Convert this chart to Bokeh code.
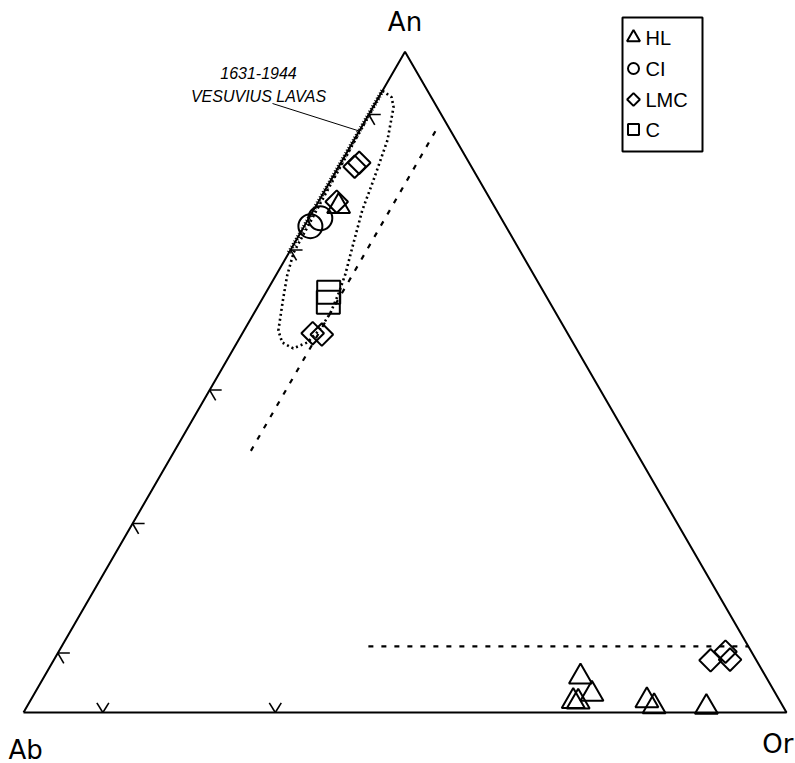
import math
from bokeh.plotting import figure
from bokeh.models import Range1d, Label
from bokeh.embed import file_html
from bokeh.resources import INLINE

# ---------------- data (percent; Ab = 100 - An - Or) ----------------
HL_AN = [76.6, 5.4, 2.8, 1.6, 1.7, 1.8, 0.9, 0.8]
HL_OR = [3.0, 70.3, 73.1, 71.9, 71.2, 80.8, 82.2, 89.1]
CI_AN = [73.6, 74.8]
CI_OR = [0.8, 1.5]
LMC_AN = [82.6, 83.2, 77.3, 57.4, 57.2, 7.9, 9.2, 8.0]
LMC_OR = [2.1, 2.4, 2.4, 9.2, 10.5, 86.1, 87.4, 88.6]
C_AN = [63.6, 62.1]
C_OR = [8.2, 8.9]

LEGEND_LABELS = ["HL", "CI", "LMC", "C"]
VERTEX_LABELS = ["An", "Ab", "Or"]
FIELD_LABEL = ["1631-1944", "VESUVIUS LAVAS"]

# 1631-1944 Vesuvius lavas field outline
FIELD_AN = [94.1, 93.1, 91.6, 86.6, 80.5, 76.0, 70.4, 66.4, 63.4, 60.4, 57.8, 56.0,
            55.1, 56.0, 57.8, 62.4, 66.1, 69.6, 80.0, 94.1]
FIELD_OR = [0.0, 1.7, 2.7, 4.4, 5.6, 6.4, 7.9, 9.0, 9.6, 10.0, 9.8, 9.2,
            7.8, 5.9, 4.5, 2.8, 1.5, 0.6, 0.3, 0.0]
FIELD_EDGE_AN = [69.6, 94.1]
LEADER_AN = 88.0

# tick positions
TICK_LEFT_AN = [9.0, 28.6, 48.8, 70.0, 90.5]
TICK_BASE_OR = [10.4, 33.0]

# dashed guide lines
GUIDE1_AN = [39.6, 89.0]   # Or = 10
GUIDE1_OR = [10.0, 10.0]
GUIDE2_AN = [10.0, 10.0]   # An = 10
GUIDE2_OR = [40.2, 90.0]

# ---------------- helpers ----------------
S3 = math.sqrt(3) / 2
SCALE = 763.0  # px per unit


def tern(an, orr):
    xs = [(o + a / 2) / 100 for a, o in zip(an, orr)]
    ys = [a / 100 * S3 for a in an]
    return xs, ys


def px(xp):
    return (xp - 23) / SCALE


def py(yp):
    return (712 - yp) / SCALE


W, H = 795, 763
p = figure(width=W, height=H, output_backend="svg", toolbar_location=None,
           x_axis_type=None, y_axis_type=None, min_border=0,
           x_range=Range1d(px(0), px(W)), y_range=Range1d(py(H), py(0)))
p.outline_line_color = None
p.grid.visible = False
p.background_fill_color = "white"

# dashed guides
for a, o in [(GUIDE1_AN, GUIDE1_OR), (GUIDE2_AN, GUIDE2_OR)]:
    gx, gy = tern(a, o)
    p.line(gx, gy, line_color="black", line_width=2.2, line_dash="5 8")

# field outline
fx, fy = tern(FIELD_AN, FIELD_OR)
p.line(fx, fy, line_color="black", line_width=2.6, line_dash="2 3")
ex, ey = tern(FIELD_EDGE_AN, [0, 0])
p.line(ex, ey, line_color="black", line_width=4.5, line_dash="1 2")

# triangle outline
tx, ty = tern([0, 0, 100, 0], [0, 100, 0, 0])
p.line(tx, ty, line_color="black", line_width=2)

# ticks
L = 12 / SCALE
x0, y0, x1, y1 = [], [], [], []
lx, ly = tern(TICK_LEFT_AN, [0] * len(TICK_LEFT_AN))
for x, y in zip(lx, ly):
    x0 += [x, x]; y0 += [y, y]
    x1 += [x + L, x + L * 0.5]; y1 += [y, y - L * 0.866]
bx, by = tern([0] * len(TICK_BASE_OR), TICK_BASE_OR)
for x, y in zip(bx, by):
    x0 += [x, x]; y0 += [y, y]
    x1 += [x - L * 0.5, x + L * 0.5]; y1 += [y + L * 0.8, y + L * 0.8]
p.segment(x0, y0, x1, y1, line_color="black", line_width=1.6)

# leader line
lex, ley = tern([LEADER_AN], [0])
p.segment([px(272)], [py(103)], lex, ley, line_color="black", line_width=1)

# data markers
hx, hy = tern(HL_AN, HL_OR)
p.scatter(hx, hy, marker="triangle", size=23, fill_color=None, line_color="black", line_width=2)
cx, cy = tern(CI_AN, CI_OR)
p.scatter(cx, cy, marker="circle", size=24, fill_color=None, line_color="black", line_width=2)
dx, dy = tern(LMC_AN, LMC_OR)
p.scatter(dx, dy, marker="square", size=16, angle=math.pi / 4, fill_color=None,
          line_color="black", line_width=2)
sx, sy = tern(C_AN, C_OR)
p.scatter(sx, sy, marker="square", size=23, fill_color=None, line_color="black", line_width=2)

# field label
for txt, yc in zip(FIELD_LABEL, [72, 96]):
    p.add_layout(Label(x=px(258), y=py(yc), text=txt, text_align="center",
                       text_baseline="middle", text_font="Liberation Sans",
                       text_font_style="italic", text_font_size="16px", text_color="black"))

# vertex labels
for txt, xp, yc, al in zip(VERTEX_LABELS, [404.5, 8, 793], [21, 749, 743],
                           ["center", "left", "right"]):
    p.add_layout(Label(x=px(xp), y=py(yc), text=txt, text_align=al,
                       text_baseline="middle", text_font="DejaVu Sans",
                       text_font_size="26px", text_color="black"))

# legend
p.quad(left=[px(622)], right=[px(702)], top=[py(17)], bottom=[py(151)],
       fill_color="white", line_color="black", line_width=2)
ly_px = [37, 68, 99, 129]
markers = [("triangle", 13, 0), ("circle", 11, 0), ("square", 9, math.pi / 4), ("square", 11, 0)]
for (m, s, ang), lab, yc in zip(markers, LEGEND_LABELS, ly_px):
    p.scatter([px(633)], [py(yc)], marker=m, size=s, angle=ang, fill_color=None,
              line_color="black", line_width=2)
    p.add_layout(Label(x=px(645), y=py(yc), text=lab, text_align="left",
                       text_baseline="middle", text_font="Liberation Sans",
                       text_font_size="20px", text_color="black"))

open("out.html", "w").write(file_html(p, INLINE))
